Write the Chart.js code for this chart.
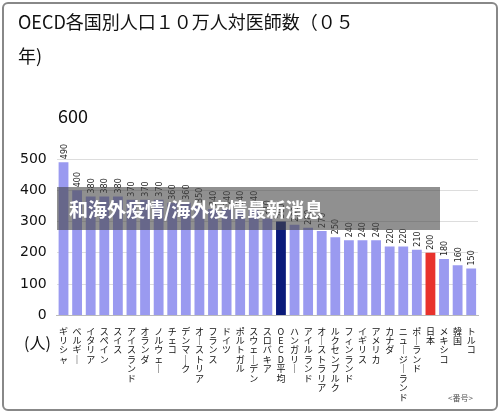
<!DOCTYPE html>
<html><head><meta charset="utf-8">
<script src="https://cdn.jsdelivr.net/npm/chart.js@4"></script>
<style>
body{margin:0;background:#fff;font-family:"Noto Sans CJK JP",sans-serif;}
#wrap{position:relative;width:500px;height:417px;overflow:hidden;}
#frame{position:absolute;left:2px;top:2px;width:492px;height:405px;border:2px solid #888;border-radius:6px;}
.t{position:absolute;color:#111;}
#band{position:absolute;left:57px;top:187px;width:383px;height:43px;background:rgba(70,70,70,0.6);color:#fff;font-weight:bold;font-size:19px;line-height:43px;padding-left:12px;box-sizing:border-box;}
canvas{position:absolute;left:0;top:0;}
</style></head><body>
<div id="wrap">
<div id="frame"></div>
<canvas id="c" width="500" height="417"></canvas>
<div class="t" style="left:18px;top:8px;font-size:18px;">OECD各国別人口１０万人対医師数（０５</div>
<div class="t" style="left:18px;top:42px;font-size:18px;">年)</div>
<div class="t" style="left:58px;top:102px;font-size:18px;">600</div>
<div class="t" style="left:24px;top:330px;font-size:16px;">(人)</div>
<div class="t" style="left:448px;top:392px;font-size:8px;color:#555;">&lt;番号&gt;</div>
<div id="band">和海外疫情/海外疫情最新消息</div>
</div>
<script>
const countries=["ギリシャ","ベルギー","イタリア","スペイン","スイス","アイスランド","オランダ","ノルウェー","チェコ","デンマーク","オーストリア","フランス","ドイツ","ポルトガル","スウェーデン","スロバキア","OECD平均","ハンガリー","アイルランド","オーストラリア","ルクセンブルク","フィンランド","イギリス","アメリカ","カナダ","ニュージーランド","ポーランド","日本","メキシコ","韓国","トルコ"];
const values=[490,400,380,380,380,370,370,370,360,360,350,340,340,340,340,310,300,290,280,270,250,240,240,240,220,220,210,200,180,160,150];
const yTicks=[0,100,200,300,400,500];
const colors=countries.map(c=>c==="OECD平均"?"#0a1a7a":c==="日本"?"#e8322c":"#9a9af0");
const valLabels={id:'vl',afterDatasetsDraw(ch){const ctx=ch.ctx;const m=ch.getDatasetMeta(0);ctx.save();ctx.font='8px "DejaVu Sans"';ctx.fillStyle='#222';m.data.forEach((b,i)=>{ctx.save();ctx.translate(b.x+3,b.y-3);ctx.rotate(-Math.PI/2);ctx.fillText(String(values[i]),0,0);ctx.restore();});ctx.restore();}};
new Chart(document.getElementById('c'),{type:'bar',
data:{labels:countries.map(c=>c.replace(/ー/g,'｜').split('')),datasets:[{data:values,backgroundColor:colors,categoryPercentage:0.85,barPercentage:0.85}]},
options:{responsive:false,animation:false,layout:{padding:{top:159,left:10,right:22,bottom:12}},
plugins:{legend:{display:false},tooltip:{enabled:false}},
scales:{y:{min:0,max:500,afterBuildTicks(a){a.ticks=yTicks.map(v=>({value:v}));},ticks:{color:'#111',font:{size:14,family:'DejaVu Sans'},padding:10},grid:{color:'#ddd',drawTicks:false},border:{display:false}},
x:{ticks:{color:'#111',font:{size:9,family:'"Noto Sans CJK JP"',lineHeight:1.05},maxRotation:0,minRotation:0,autoSkip:false},grid:{display:false},border:{color:'#bbb'}}}},
plugins:[valLabels]});
</script></body></html>
